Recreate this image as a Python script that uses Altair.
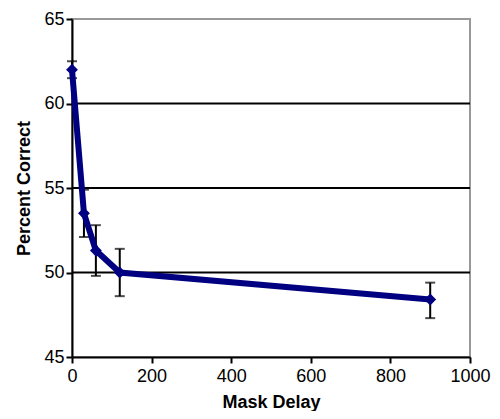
import altair as alt
import pandas as pd

delays = [0, 30, 60, 120, 900]
pct = [62.0, 53.5, 51.3, 50.0, 48.4]
err_lo = [61.5, 52.1, 49.8, 48.6, 47.3]
err_hi = [62.5, 54.9, 52.8, 51.4, 49.4]
grid_vals = [50, 55, 60]
x_ticks = [0, 200, 400, 600, 800, 1000]
y_ticks = [45, 50, 55, 60, 65]

df = pd.DataFrame({"delay": delays, "pct": pct, "lo": err_lo, "hi": err_hi})
gdf = pd.DataFrame({"g": grid_vals})

font = "Liberation Sans"
xs = alt.Scale(domain=[0, 1000], nice=False)
ys = alt.Scale(domain=[45, 65], nice=False)

common = dict(grid=False, labelFontSize=18, titleFontSize=18, titleFontWeight="bold",
              labelColor="black", titleColor="black", domainColor="black",
              domainWidth=2, tickColor="black", tickWidth=2, tickSize=6,
              labelFont=font, titleFont=font, labelFlush=False, labelOverlap=False,
              format="d")
xax = alt.Axis(values=x_ticks, title="Mask Delay", labelPadding=4, titlePadding=8, **common)
yax = alt.Axis(values=y_ticks, title="Percent Correct", labelPadding=2, titlePadding=10, **common)

grid = alt.Chart(gdf).mark_rule(color="black", strokeWidth=2).encode(
    y=alt.Y("g:Q", scale=ys, axis=yax)
)

bars = alt.Chart(df).mark_rule(color="black", strokeWidth=2).encode(
    x=alt.X("delay:Q", scale=xs, axis=xax),
    y=alt.Y("lo:Q", scale=ys),
    y2="hi:Q",
)
cap_lo = alt.Chart(df).mark_tick(color="black", orient="horizontal", size=10, thickness=2).encode(
    x=alt.X("delay:Q", scale=xs), y=alt.Y("lo:Q", scale=ys)
)
cap_hi = alt.Chart(df).mark_tick(color="black", orient="horizontal", size=10, thickness=2).encode(
    x=alt.X("delay:Q", scale=xs), y=alt.Y("hi:Q", scale=ys)
)

line = alt.Chart(df).mark_line(color="#000080", strokeWidth=6).encode(
    x=alt.X("delay:Q", scale=xs), y=alt.Y("pct:Q", scale=ys)
)
pts = alt.Chart(df).mark_point(shape="diamond", filled=True, color="#000080", size=140, opacity=1).encode(
    x=alt.X("delay:Q", scale=xs), y=alt.Y("pct:Q", scale=ys)
)

chart = alt.layer(grid, bars, cap_lo, cap_hi, line, pts).properties(
    width=398, height=338, autosize="none",
    padding={"left": 64, "top": 11, "right": 22, "bottom": 54},
    background="white",
).configure_view(stroke="#999999", strokeWidth=2)

chart.save("out.html", embed_options={"renderer": "svg", "actions": False})
